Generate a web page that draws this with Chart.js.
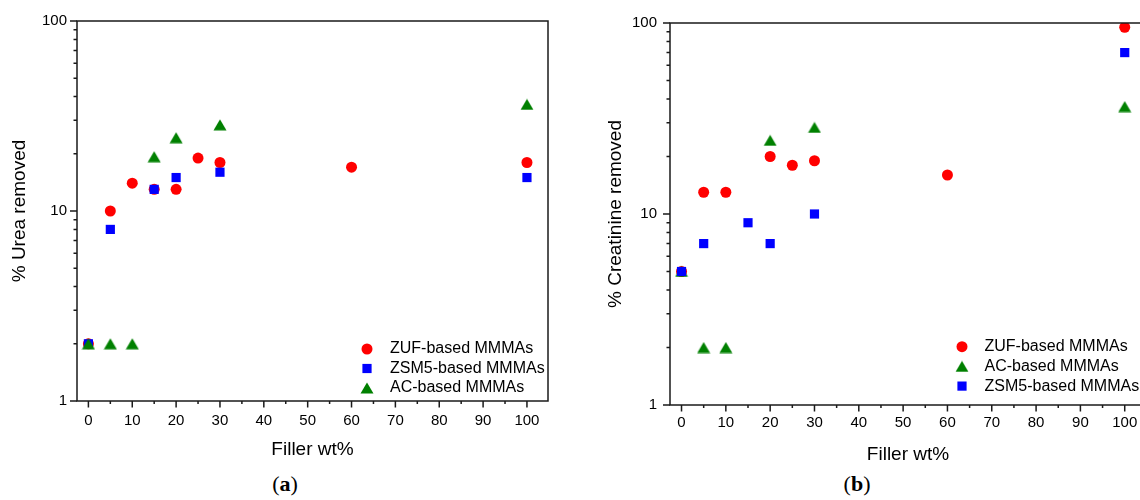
<!DOCTYPE html>
<html>
<head>
<meta charset="utf-8">
<script src="https://cdn.jsdelivr.net/npm/chart.js@4.4.1/dist/chart.umd.min.js"></script>
<style>
  html, body { margin: 0; padding: 0; background: #fff; overflow: hidden; }
  body { width: 1140px; height: 500px; position: relative; }
  canvas { position: absolute; top: 0; }
  #chartA { left: 0; }
  #chartB { left: 570px; }
  .caption {
    position: absolute; top: 471px; width: 60px; margin-left: -30px;
    text-align: center; font-family: "Liberation Serif", serif; font-size: 22px; color: #000;
  }
</style>
</head>
<body>
<canvas id="chartA" width="570" height="470"></canvas>
<canvas id="chartB" width="590" height="470"></canvas>
<div class="caption" style="left:285px">(<b>a</b>)</div>
<div class="caption" style="left:857px">(<b>b</b>)</div>
<script>
// axis ticks
const xTicksMajor = [0, 10, 20, 30, 40, 50, 60, 70, 80, 90, 100];
const xTicksMinor = [5, 15, 25, 35, 45, 55, 65, 75, 85, 95];
const yTicksMajor = [1, 10, 100];
const yTicksMinor = [2, 3, 4, 5, 6, 7, 8, 9, 20, 30, 40, 50, 60, 70, 80, 90];

// (a) % urea removed
const ureaZufX  = [0, 5, 10, 15, 20, 25, 30, 60, 100];
const ureaZufY  = [2, 10, 14, 13, 13, 19, 18, 17, 18];
const ureaZsm5X = [0, 5, 15, 20, 30, 100];
const ureaZsm5Y = [2, 8, 13, 15, 16, 15];
const ureaAcX   = [0, 5, 10, 15, 20, 30, 100];
const ureaAcY   = [2, 2, 2, 19.3, 24.3, 28.4, 36.4];

// (b) % creatinine removed
const creaZufX  = [0, 5, 10, 20, 25, 30, 60, 100];
const creaZufY  = [5, 13, 13, 20, 18, 19, 16, 95];
const creaAcX   = [0, 5, 10, 20, 30, 100];
const creaAcY   = [5, 2, 2, 24.3, 28.4, 36.5];
const creaZsm5X = [0, 5, 15, 20, 30, 100];
const creaZsm5Y = [5, 7, 9, 7, 10, 70];

const FONT = '"Liberation Sans", Arial, sans-serif';
const RED = '#ff0000', BLUE = '#0000ff', GREEN = '#008000';

// triangle marker centred on its bounding box (like Origin does)
function triangleImage(color) {
  const c = document.createElement('canvas');
  c.width = 14; c.height = 12;
  const g = c.getContext('2d');
  g.fillStyle = color;
  g.beginPath();
  g.moveTo(7, 0.5);
  g.lineTo(13.5, 11.5);
  g.lineTo(0.5, 11.5);
  g.closePath();
  g.fill();
  return c;
}
const TRI = triangleImage(GREEN);

function pts(xs, ys) {
  return xs.map((x, i) => ({ x: x, y: ys[i] }));
}

function series(label, xs, ys, kind) {
  const ds = { label: label, data: pts(xs, ys), showLine: false, borderWidth: 0 };
  if (kind === 'circle') Object.assign(ds, { pointStyle: 'circle', pointRadius: 5.5, backgroundColor: RED, borderColor: RED });
  if (kind === 'rect') Object.assign(ds, { pointStyle: 'rect', pointRadius: 6.5, backgroundColor: BLUE, borderColor: BLUE });
  if (kind === 'tri') Object.assign(ds, { pointStyle: TRI, pointRadius: 7, backgroundColor: GREEN, borderColor: GREEN });
  ds.kind = kind;
  return ds;
}

// box + outward tick marks (major and minor)
const frameTicks = {
  id: 'frameTicks',
  afterDraw(chart) {
    const { ctx, chartArea: a, scales: { x, y } } = chart;
    ctx.save();
    ctx.strokeStyle = '#1a1a1a';
    ctx.lineWidth = 1.5;
    ctx.strokeRect(a.left, a.top, a.right - a.left, a.bottom - a.top);
    ctx.beginPath();
    xTicksMajor.forEach(v => { const p = x.getPixelForValue(v); ctx.moveTo(p, a.bottom); ctx.lineTo(p, a.bottom + 6.5); });
    xTicksMinor.forEach(v => { const p = x.getPixelForValue(v); ctx.moveTo(p, a.bottom); ctx.lineTo(p, a.bottom + 3); });
    yTicksMajor.forEach(v => { const p = y.getPixelForValue(v); ctx.moveTo(a.left, p); ctx.lineTo(a.left - 7, p); });
    yTicksMinor.forEach(v => { const p = y.getPixelForValue(v); ctx.moveTo(a.left, p); ctx.lineTo(a.left - 3.5, p); });
    ctx.stroke();
    ctx.restore();
  }
};

// legend drawn inside the plot
const insideLegend = {
  id: 'insideLegend',
  afterDraw(chart, args, opts) {
    const ctx = chart.ctx;
    ctx.save();
    ctx.font = '16px ' + FONT;
    ctx.textBaseline = 'middle';
    chart.data.datasets.forEach((ds, i) => {
      const cy = opts.y + i * opts.gap;
      const cx = opts.markerX;
      ctx.fillStyle = ds.backgroundColor;
      if (ds.kind === 'circle') {
        ctx.beginPath(); ctx.arc(cx, cy, 5.5, 0, Math.PI * 2); ctx.fill();
      } else if (ds.kind === 'rect') {
        const s = 6.5 * Math.SQRT1_2;
        ctx.fillRect(cx - s, cy - s, 2 * s, 2 * s);
      } else {
        ctx.drawImage(TRI, cx - TRI.width / 2, cy - TRI.height / 2);
      }
      ctx.fillStyle = '#000';
      ctx.fillText(ds.label, opts.textX, cy);
    });
    ctx.restore();
  }
};

function makeChart(id, datasets, o) {
  datasets.forEach((ds, i) => { ds.order = datasets.length - i; });
  return new Chart(document.getElementById(id), {
    type: 'scatter',
    data: { datasets: datasets },
    plugins: [frameTicks, insideLegend],
    options: {
      responsive: false,
      devicePixelRatio: 1,
      animation: false,
      events: [],
      layout: { padding: { left: 0, top: o.top, right: o.right, bottom: 0 } },
      plugins: {
        legend: { display: false },
        tooltip: { enabled: false },
        insideLegend: o.legend
      },
      scales: {
        x: {
          type: 'linear', min: -2.6, max: 104.8,
          grid: { display: false, drawTicks: false },
          border: { display: false },
          afterBuildTicks: s => { s.ticks = xTicksMajor.map(v => ({ value: v })); },
          afterFit: s => { s.height = o.xh; },
          ticks: { padding: o.xpad, color: '#000', font: { size: 15, family: FONT }, maxRotation: 0, autoSkip: false },
          title: { display: true, text: 'Filler wt%', color: '#000', font: { size: 19, family: FONT }, padding: { top: 0, bottom: o.xtp } }
        },
        y: {
          type: 'logarithmic', min: 1, max: 100,
          grid: { display: false, drawTicks: false },
          border: { display: false },
          afterBuildTicks: s => { s.ticks = yTicksMajor.map(v => ({ value: v })); },
          afterFit: s => { s.width = o.yw; },
          ticks: { padding: o.ypad, color: '#000', font: { size: 15, family: FONT }, callback: v => String(v) },
          title: { display: true, text: o.ytitle, color: '#000', font: { size: 19, family: FONT }, padding: { top: o.ytp, bottom: 0 } }
        }
      }
    }
  });
}

makeChart('chartA', [
  series('ZUF-based MMMAs', ureaZufX, ureaZufY, 'circle'),
  series('ZSM5-based MMMAs', ureaZsm5X, ureaZsm5Y, 'rect'),
  series('AC-based MMMAs', ureaAcX, ureaAcY, 'tri')
], {
  top: 21, right: 22, xh: 69, yw: 77, xpad: 11, ypad: 10, xtp: 8.6, ytp: 8.6,
  ytitle: '% Urea removed',
  legend: { markerX: 367, textX: 390, y: 349, gap: 19.5 }
});

makeChart('chartB', [
  series('ZUF-based MMMAs', creaZufX, creaZufY, 'circle'),
  series('AC-based MMMAs', creaAcX, creaAcY, 'tri'),
  series('ZSM5-based MMMAs', creaZsm5X, creaZsm5Y, 'rect')
], {
  top: 23, right: 14, xh: 65, yw: 100, xpad: 9.3, ypad: 13, xtp: 4, ytp: 34.6,
  ytitle: '% Creatinine removed',
  legend: { markerX: 392, textX: 414.5, y: 346.7, gap: 19.7 }
});
</script>
</body>
</html>
